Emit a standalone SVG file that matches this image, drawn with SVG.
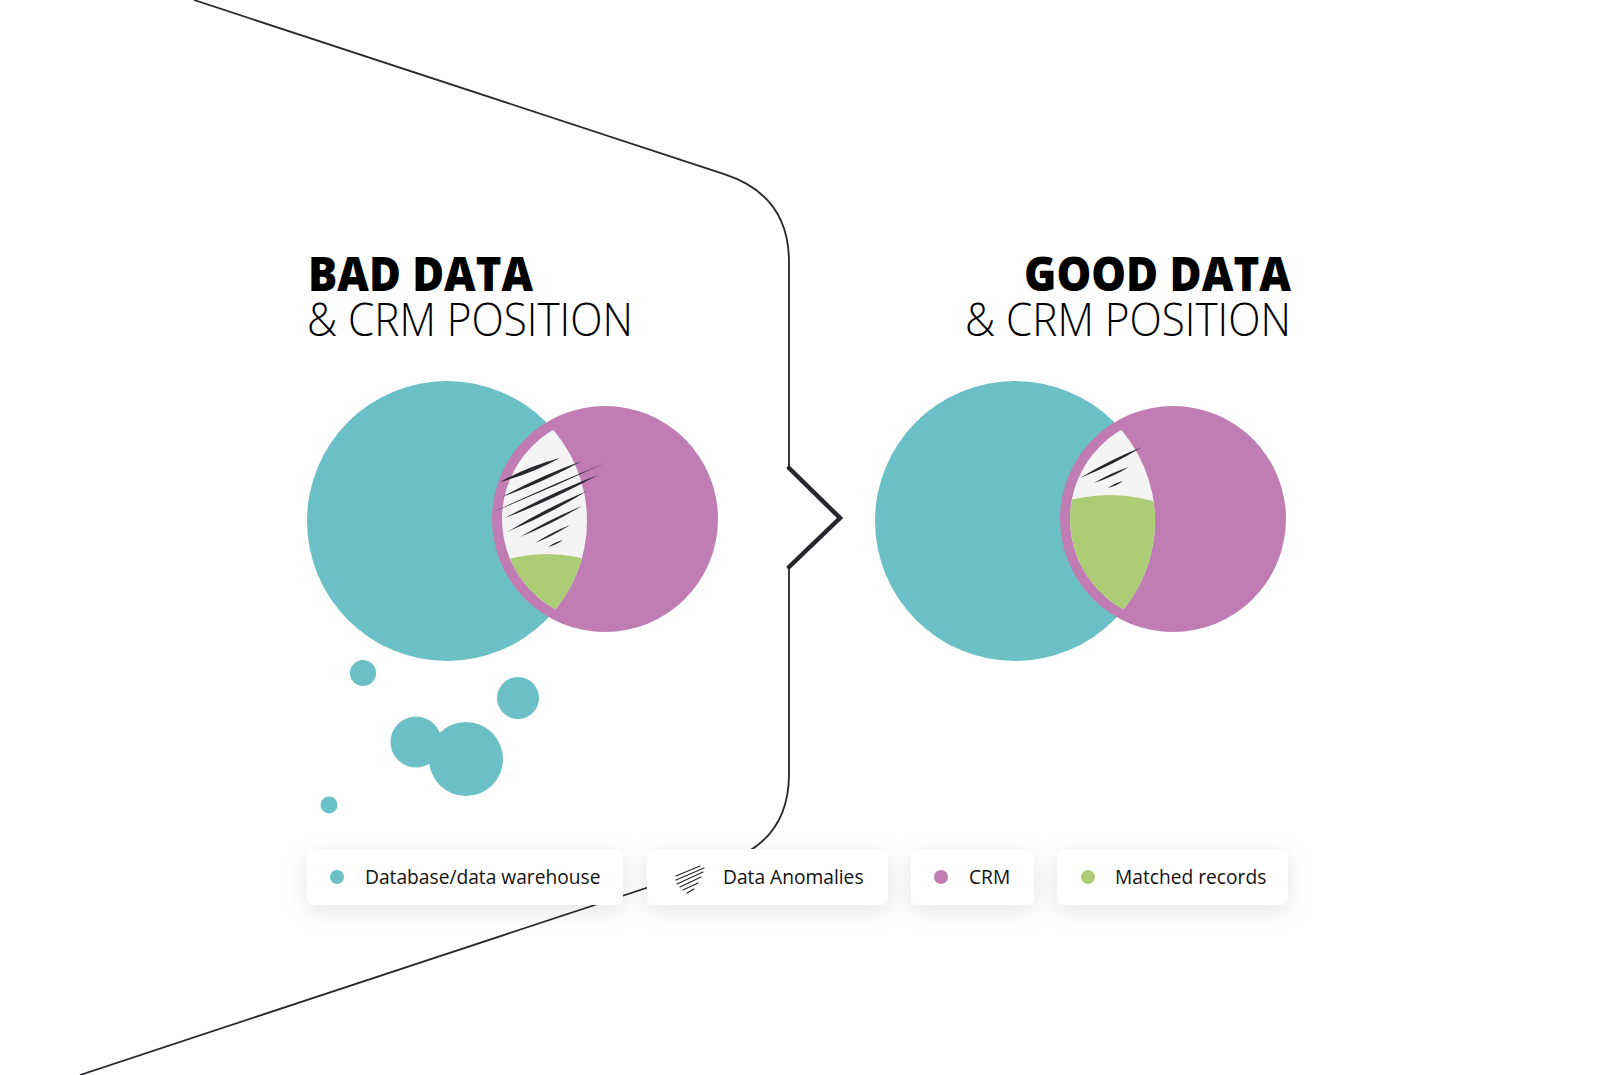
<svg xmlns="http://www.w3.org/2000/svg" width="1600" height="1075" viewBox="0 0 1600 1075">
<style>
.teal{fill:#6bbfc6}
.purple{fill:#bf7db4}
.lens{fill:#f4f4f4}
.green{fill:#accd75}
.ink{fill:#26262c}
.outline{fill:none;stroke:#26262c;stroke-width:1.8}
.chev{fill:none;stroke:#26262c;stroke-width:4.5;stroke-linecap:round;stroke-linejoin:miter}
.title-b{font-family:"Open Sans","Liberation Sans",sans-serif;font-weight:800;font-size:48px;fill:#000}
.title-l{font-family:"Open Sans","Liberation Sans",sans-serif;font-weight:300;font-size:46px;fill:#000}
.lg-box{fill:#fff}
.lg-text{font-family:"Open Sans","Liberation Sans",sans-serif;font-size:19.2px;fill:#111}
.hatch{stroke:#26262c;stroke-width:1.2;stroke-linecap:round;fill:none}
</style>
<defs>
<filter id="shadow" x="-30%" y="-80%" width="160%" height="260%">
<feDropShadow dx="0" dy="6" stdDeviation="12" flood-color="#000" flood-opacity="0.10"/>
</filter>
<clipPath id="clipTealL"><circle cx="447" cy="521" r="140"/></clipPath>
<clipPath id="clipInnerL"><circle cx="605" cy="519" r="103"/></clipPath>
<clipPath id="clipTealR"><circle cx="1015" cy="521" r="140"/></clipPath>
<clipPath id="clipInnerR"><circle cx="1173" cy="519" r="103"/></clipPath>
</defs>
<rect width="1600" height="1075" fill="#fff"/>

<g id="connectors">
<path class="outline" d="M194,0 L725,174.4 Q789,195.6 789,262 L789,468 L840,518 L789,567 L789,774 Q789,841 725,862 L80,1075"/>
<path class="chev" d="M789,468 L840,518 L789,567"/>
</g>

<g id="title-bad">
<text class="title-b" x="308" y="291" textLength="225" lengthAdjust="spacingAndGlyphs">BAD DATA</text>
<text class="title-l" x="307" y="336" textLength="326" lengthAdjust="spacingAndGlyphs">&amp; CRM POSITION</text>
</g>
<g id="title-good">
<text class="title-b" x="1024" y="291" textLength="267" lengthAdjust="spacingAndGlyphs">GOOD DATA</text>
<text class="title-l" x="965" y="336" textLength="326" lengthAdjust="spacingAndGlyphs">&amp; CRM POSITION</text>
</g>

<g id="venn-bad">
<circle class="teal" cx="447" cy="521" r="140"/>
<circle class="purple" cx="605" cy="519" r="113"/>
<g clip-path="url(#clipTealL)">
<circle class="lens" cx="605" cy="519" r="103"/>
<g clip-path="url(#clipInnerL)">
<circle class="green" cx="547" cy="700" r="146"/>
</g>
</g>
<g class="ink">
<path d="M500,482 Q531.6,473.7 560,458 Q528.4,466.3 500,482Z"/>
<path d="M502,497 Q543.4,482.2 582,461 Q540.6,475.8 502,497Z"/>
<path d="M493,512 Q549.6,488.9 605,463 Q548.4,486.1 493,512Z"/>
<path d="M505,518 Q552.9,499.7 598,475 Q550.1,493.3 505,518Z"/>
<path d="M507,532 Q548.4,514.7 587,491 Q545.6,508.3 507,532Z"/>
<path d="M520,537 Q552,523.8 582,506 Q550,519.2 520,537Z"/>
<path d="M535,543 Q553.3,535.8 570,525 Q551.7,532.2 535,543Z"/>
<path d="M548,547 Q556.2,545.1 563,540 Q554.8,541.9 548,547Z"/>
</g>
</g>

<g id="bubbles">
<circle class="teal" cx="363" cy="673" r="13"/>
<circle class="teal" cx="518" cy="698" r="21"/>
<circle class="teal" cx="416" cy="742" r="25.5"/>
<circle class="teal" cx="466" cy="759" r="37"/>
<circle class="teal" cx="329" cy="805" r="8.5"/>
</g>

<g id="venn-good">
<circle class="teal" cx="1015" cy="521" r="140"/>
<circle class="purple" cx="1173" cy="519" r="113"/>
<g clip-path="url(#clipTealR)">
<circle class="lens" cx="1173" cy="519" r="103"/>
<g clip-path="url(#clipInnerR)">
<circle class="green" cx="1110" cy="650" r="155"/>
</g>
</g>
<g class="ink">
<path d="M1080,478 Q1112.3,465.2 1142,447 Q1109.7,459.8 1080,478Z"/>
<path d="M1094,483 Q1112.5,477 1129,467 Q1110.5,473 1094,483Z"/>
<path d="M1108,488 Q1116.3,486.1 1123,481 Q1114.7,482.9 1108,488Z"/>
</g>
</g>

<g id="legend-database">
<rect class="lg-box" x="307" y="849" width="316" height="56" rx="7" filter="url(#shadow)"/>
<circle class="teal" cx="337" cy="877" r="7"/>
<text class="lg-text" x="365" y="884">Database/data warehouse</text>
</g>
<g id="legend-anomalies">
<rect class="lg-box" x="647" y="849" width="241" height="56" rx="7" filter="url(#shadow)"/>
<g class="hatch">
<path d="M676,876 L700,866"/>
<path d="M676,880 L704,868"/>
<path d="M677,884 L703,872"/>
<path d="M680,887 L701,877"/>
<path d="M683,890 L698,883"/>
<path d="M687,893 L694,889"/>
</g>
<text class="lg-text" x="723" y="884">Data Anomalies</text>
</g>
<g id="legend-crm">
<rect class="lg-box" x="911" y="849" width="123" height="56" rx="7" filter="url(#shadow)"/>
<circle class="purple" cx="941" cy="877" r="7"/>
<text class="lg-text" x="969" y="884">CRM</text>
</g>
<g id="legend-matched">
<rect class="lg-box" x="1057" y="849" width="231" height="56" rx="7" filter="url(#shadow)"/>
<circle class="green" cx="1088" cy="877" r="7"/>
<text class="lg-text" x="1115" y="884">Matched records</text>
</g>
</svg>
